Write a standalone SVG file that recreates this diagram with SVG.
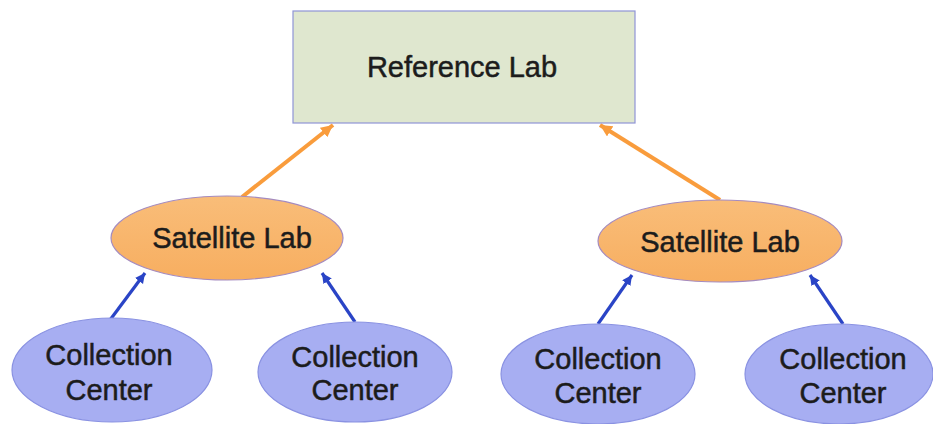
<svg xmlns="http://www.w3.org/2000/svg" width="933" height="424" viewBox="0 0 933 424">
  <defs>
    <style>
      .label { font-family: "Liberation Sans", Arial, sans-serif; font-size: 29px; fill: #1c1c1c; stroke: #1c1c1c; stroke-width: 0.5; text-anchor: middle; }
      .ref { fill: #dfe7cf; stroke: #8f95d6; stroke-width: 1.2; }
      .sat { fill: url(#satFill); stroke: #a58bbf; stroke-width: 1.2; }
      .col { fill: #a7aef2; stroke: #8a92e2; stroke-width: 1.2; }
      .up-orange { stroke: #f99c3c; stroke-width: 4; fill: none; marker-end: url(#headOrange); }
      .up-blue { stroke: #2a44c6; stroke-width: 3.2; fill: none; marker-end: url(#headBlue); }
    </style>
    <linearGradient id="satFill" x1="0" y1="0" x2="0" y2="1">
      <stop offset="0" stop-color="#f9bd79"/>
      <stop offset="1" stop-color="#f7ae60"/>
    </linearGradient>
    <marker id="headOrange" markerUnits="userSpaceOnUse" markerWidth="14" markerHeight="14" refX="12" refY="6" orient="auto">
      <path d="M0,0 L12,6 L0,12 Z" fill="#f99c3c"/>
    </marker>
    <marker id="headBlue" markerUnits="userSpaceOnUse" markerWidth="12" markerHeight="12" refX="10" refY="5" orient="auto">
      <path d="M0,0 L10,5 L0,10 Z" fill="#2a44c6"/>
    </marker>
  </defs>

  <g id="connectors">
    <line class="up-orange" x1="242" y1="197" x2="333" y2="125"/>
    <line class="up-orange" x1="720" y1="200" x2="600" y2="125"/>
    <line class="up-blue" x1="110" y1="320" x2="145" y2="273"/>
    <line class="up-blue" x1="355" y1="322" x2="322" y2="273"/>
    <line class="up-blue" x1="598" y1="324" x2="632" y2="275"/>
    <line class="up-blue" x1="843" y1="324" x2="810" y2="275"/>
  </g>

  <g id="reference-lab">
    <rect class="ref" x="293" y="11" width="342" height="112"/>
    <text class="label" x="462" y="77">Reference Lab</text>
  </g>

  <g id="satellite-lab-left">
    <ellipse class="sat" cx="227" cy="238" rx="116" ry="42"/>
    <text class="label" x="232" y="248">Satellite Lab</text>
  </g>

  <g id="satellite-lab-right">
    <ellipse class="sat" cx="720" cy="241" rx="122" ry="41"/>
    <text class="label" x="720" y="252">Satellite Lab</text>
  </g>

  <g id="collection-center-1">
    <ellipse class="col" cx="112" cy="370" rx="100" ry="52"/>
    <text class="label" x="109" y="365">Collection</text>
    <text class="label" x="109" y="400">Center</text>
  </g>

  <g id="collection-center-2">
    <ellipse class="col" cx="355" cy="372" rx="97" ry="50"/>
    <text class="label" x="355" y="367">Collection</text>
    <text class="label" x="355" y="400">Center</text>
  </g>

  <g id="collection-center-3">
    <ellipse class="col" cx="598" cy="374" rx="97" ry="50"/>
    <text class="label" x="598" y="369">Collection</text>
    <text class="label" x="598" y="403">Center</text>
  </g>

  <g id="collection-center-4">
    <ellipse class="col" cx="839" cy="374" rx="94" ry="50"/>
    <text class="label" x="843" y="369">Collection</text>
    <text class="label" x="843" y="403">Center</text>
  </g>
</svg>
